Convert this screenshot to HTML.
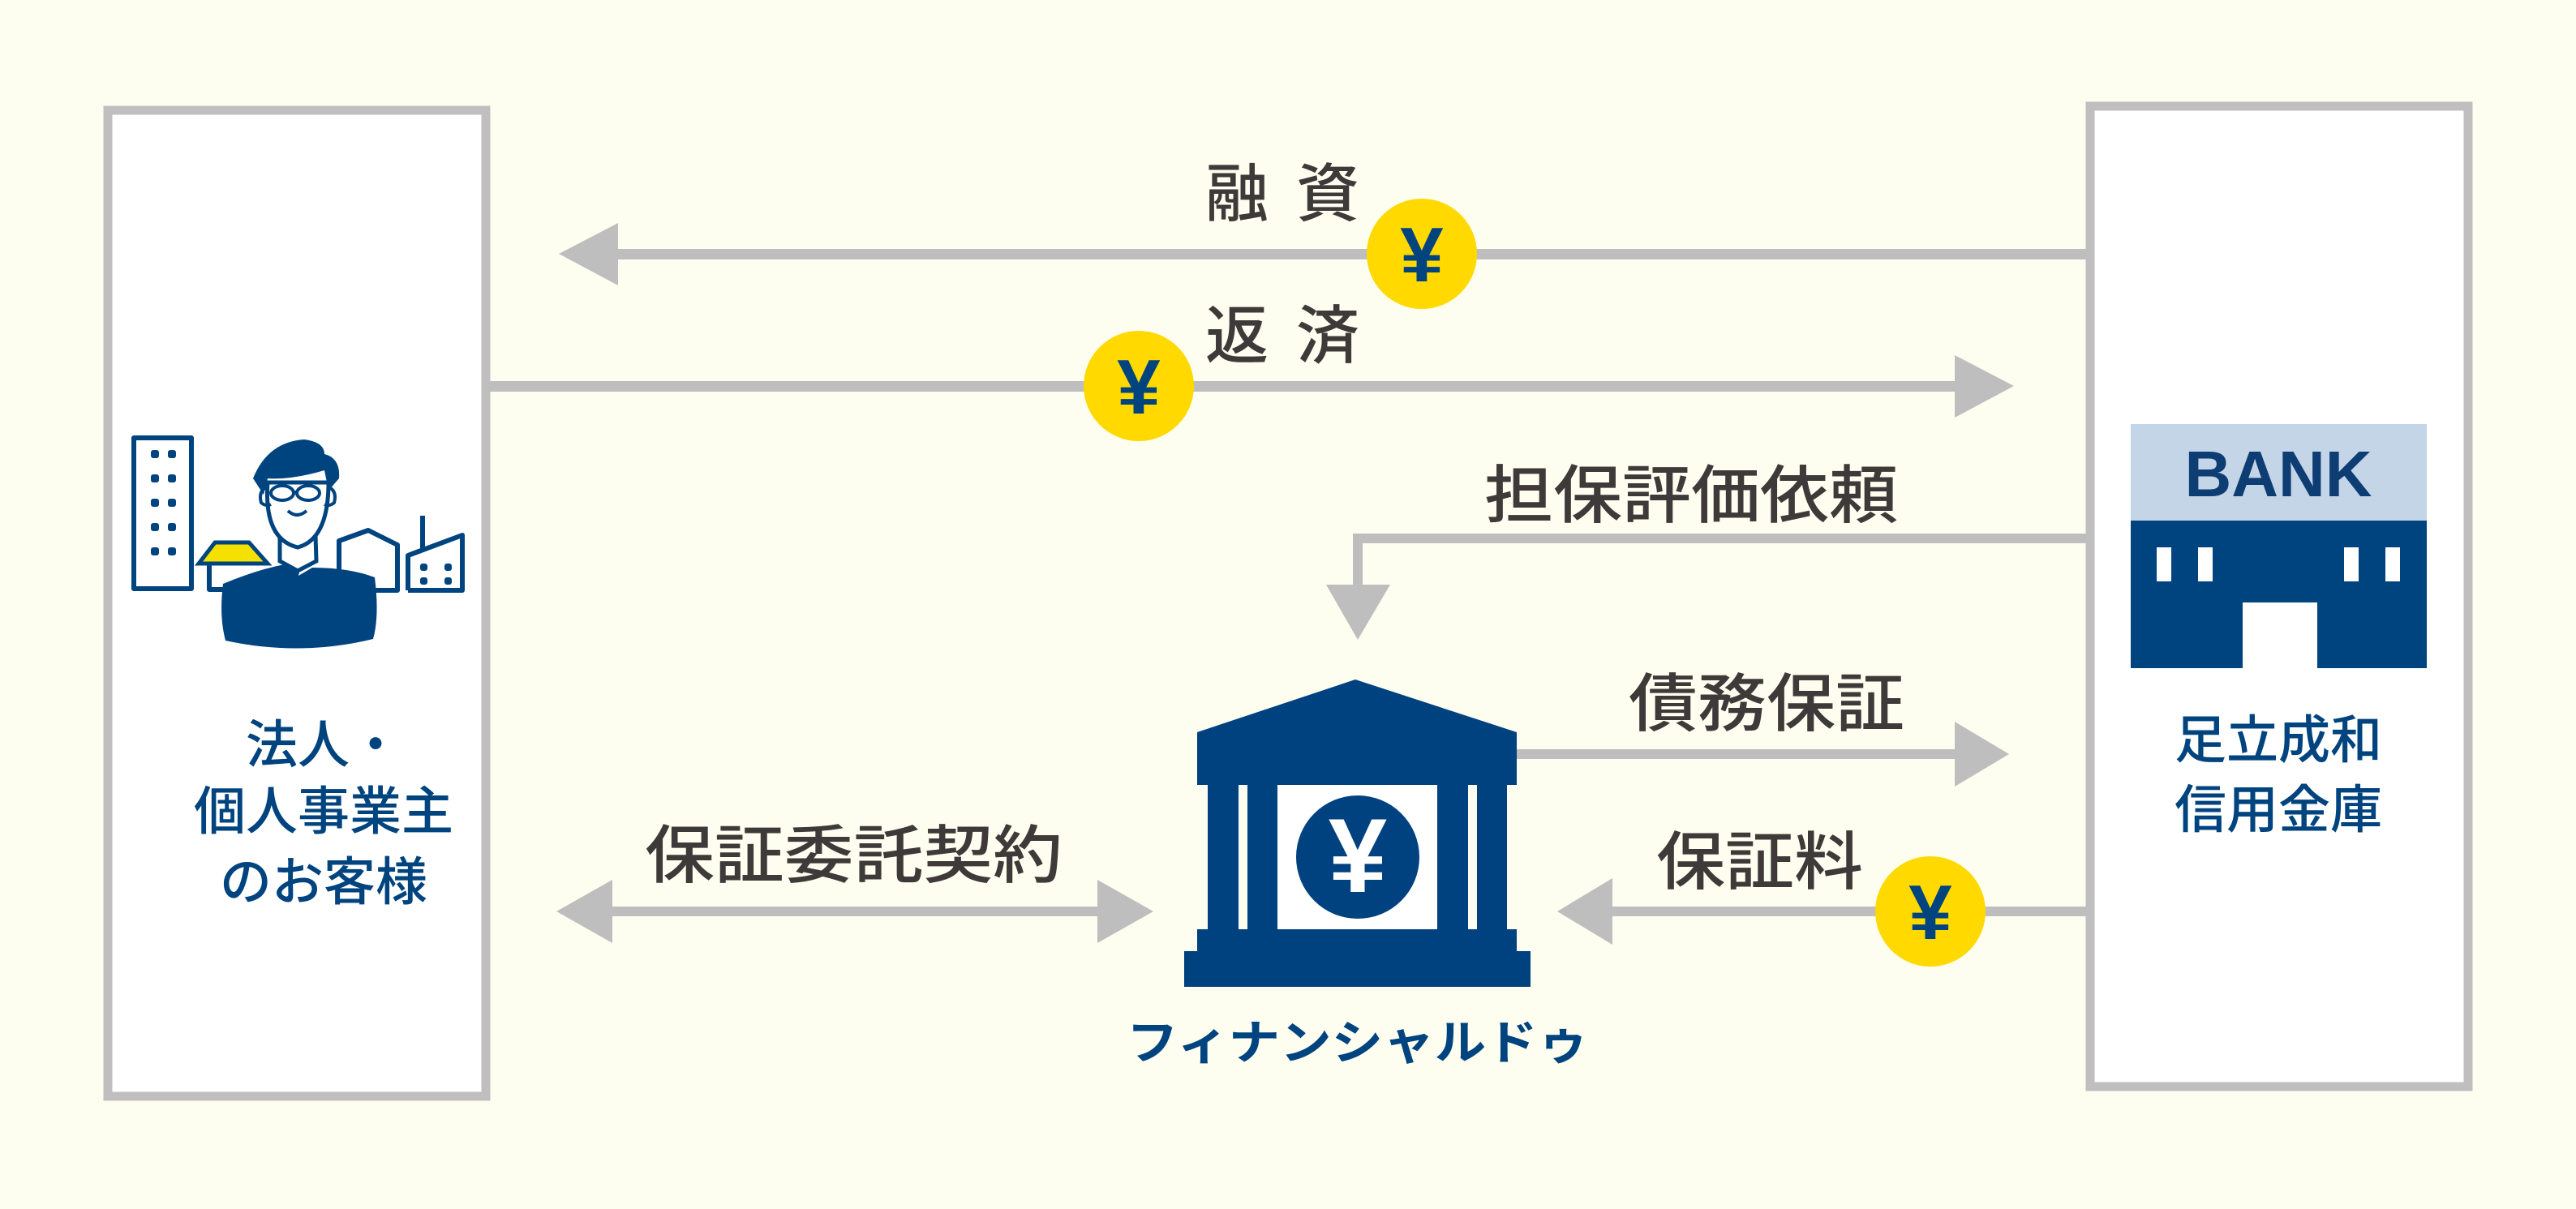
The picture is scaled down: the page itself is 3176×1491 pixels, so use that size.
<!DOCTYPE html>
<html><head><meta charset="utf-8"><style>
html,body{margin:0;padding:0;background:#fefef0;}
svg{display:block}
text{font-family:"Liberation Sans","Noto Sans CJK JP",sans-serif;}
</style></head><body>
<svg width="3176" height="1491" viewBox="0 0 3176 1491" xmlns="http://www.w3.org/2000/svg">
<rect width="3176" height="1491" fill="#fefef0"/>
<rect x="133" y="136" width="466" height="1216" fill="#fff" stroke="#bfbfbf" stroke-width="11"/>
<rect x="2577" y="131" width="466" height="1209" fill="#fff" stroke="#bfbfbf" stroke-width="11"/>

<g fill="#bebebe">
<rect x="755" y="307" width="1817" height="13"/>
<polygon points="689,313 762,275 762,352"/>
<rect x="602" y="470" width="1815" height="13"/>
<polygon points="2483,476 2410,438 2410,515"/>
<rect x="1668" y="658" width="904" height="12"/>
<rect x="1668" y="658" width="12" height="68"/>
<polygon points="1635,721 1714,721 1674,789"/>
<rect x="1870" y="924" width="545" height="12"/>
<polygon points="2477,930 2410,890 2410,970"/>
<rect x="1985" y="1118" width="587" height="12"/>
<polygon points="1920,1124 1988,1083 1988,1165"/>
<rect x="740" y="1118" width="620" height="12"/>
<polygon points="686,1124 755,1085 755,1163"/>
<polygon points="1422,1124 1353,1085 1353,1163"/>
</g>

<g font-weight="bold" fill="#00447f" font-size="96" text-anchor="middle">
<circle cx="1753" cy="313" r="68" fill="#ffd900"/>
<text x="1753" y="347">¥</text>
<circle cx="1404" cy="476" r="68" fill="#ffd900"/>
<text x="1404" y="510">¥</text>
<circle cx="2380" cy="1124" r="68" fill="#ffd900"/>
<text x="2380" y="1158">¥</text>
</g>

<g fill="#3e3a39" font-size="78" font-weight="500">
<text x="1486" y="266">融</text>
<text x="1598" y="266">資</text>
<text x="1486" y="441">返</text>
<text x="1598" y="441">済</text>
<text x="1830" y="638" textLength="510" lengthAdjust="spacingAndGlyphs">担保評価依頼</text>
<text x="2008" y="895" textLength="340" lengthAdjust="spacingAndGlyphs">債務保証</text>
<text x="2042" y="1090" textLength="255" lengthAdjust="spacingAndGlyphs">保証料</text>
<text x="795" y="1082" textLength="515" lengthAdjust="spacingAndGlyphs">保証委託契約</text>
</g>

<g fill="#00417f">
<polygon points="1671,838 1476,903 1870,903"/>
<rect x="1476" y="903" width="394" height="65"/>
<rect x="1489" y="968" width="38" height="180"/>
<rect x="1538" y="968" width="37" height="180"/>
<rect x="1772" y="968" width="38" height="180"/>
<rect x="1821" y="968" width="37" height="180"/>
<rect x="1476" y="1146" width="394" height="28"/>
<rect x="1460" y="1173" width="427" height="44"/>
</g>
<rect x="1575" y="968" width="197" height="178" fill="#fff"/>
<circle cx="1674" cy="1057" r="76" fill="#00417f"/>
<text x="1674" y="1100" font-size="130" font-weight="bold" fill="#fff" text-anchor="middle">¥</text>
<text x="1674" y="1306" font-size="58" font-weight="bold" fill="#00447f" text-anchor="middle" textLength="570" lengthAdjust="spacingAndGlyphs">フィナンシャルドゥ</text>

<rect x="2627" y="523" width="365" height="119" fill="#c3d5e6"/>
<rect x="2627" y="642" width="365" height="182" fill="#00447f"/>
<text x="2809" y="612" font-size="80" font-weight="bold" fill="#0e3d73" text-anchor="middle">BANK</text>
<g fill="#fff">
<rect x="2659" y="675" width="18" height="42"/>
<rect x="2710" y="675" width="18" height="42"/>
<rect x="2890" y="675" width="18" height="42"/>
<rect x="2941" y="675" width="18" height="42"/>
<rect x="2765" y="743" width="92" height="81"/>
</g>
<g fill="#00447f" font-size="64" font-weight="500" text-anchor="middle">
<text x="2809" y="935">足立成和</text>
<text x="2809" y="1021">信用金庫</text>
<text x="399" y="941">法人・</text>
<text x="399" y="1023">個人事業主</text>
<text x="399" y="1110">のお客様</text>
</g>

<g stroke="#00447f" stroke-width="6" fill="none" stroke-linejoin="round">
<rect x="165" y="540" width="71" height="186" fill="#fff"/>
<polyline points="418,728 418,667 454,654 490,672 490,728 455,728"/>
<polyline points="503,728 503,685 570,660 570,728 503,728"/>
<line x1="521" y1="636" x2="521" y2="680"/>
<polyline points="258,697 258,727 300,727"/>
</g>
<g fill="#00447f">
<rect x="186" y="555" width="10" height="10" rx="3"/><rect x="207" y="555" width="10" height="10" rx="3"/>
<rect x="186" y="585" width="10" height="10" rx="3"/><rect x="207" y="585" width="10" height="10" rx="3"/>
<rect x="186" y="615" width="10" height="10" rx="3"/><rect x="207" y="615" width="10" height="10" rx="3"/>
<rect x="186" y="645" width="10" height="10" rx="3"/><rect x="207" y="645" width="10" height="10" rx="3"/>
<rect x="186" y="675" width="10" height="10" rx="3"/><rect x="207" y="675" width="10" height="10" rx="3"/>
<rect x="518" y="695" width="9" height="9" rx="3"/><rect x="548" y="695" width="9" height="9" rx="3"/>
<rect x="518" y="712" width="9" height="9" rx="3"/><rect x="548" y="712" width="9" height="9" rx="3"/>
</g>
<polygon points="245,695 265,669 307,669 330,695" fill="#f5e100" stroke="#00447f" stroke-width="5"/>
<path d="M275,720 Q330,697 372,693 L368,710 L385,700 Q430,700 462,712 Q468,760 460,788 Q370,810 278,790 Q270,760 275,720 Z" fill="#00447f"/>
<path d="M345,660 L345,692 L367,704 L390,692 L389,660 Z" fill="#fff" stroke="#00447f" stroke-width="5"/>
<path d="M330,595 Q325,665 367,675 Q405,665 405,595 Z" fill="#fff" stroke="#00447f" stroke-width="5"/>
<path d="M312,590 Q330,545 375,542 Q400,545 400,560 Q420,565 418,590 L405,605 L400,580 Q360,592 330,590 L325,610 Z" fill="#00447f"/>
<g fill="none" stroke="#00447f" stroke-width="4">
<ellipse cx="348" cy="608" rx="14" ry="9"/><ellipse cx="380" cy="608" rx="14" ry="9"/>
<line x1="362" y1="607" x2="366" y2="607"/>
<path d="M355,630 Q366,640 378,630"/>
<path d="M330,600 Q318,605 322,620 Q328,625 334,622"/>
<path d="M404,600 Q416,605 412,620 Q406,625 400,622"/>
</g>
</svg>
</body></html>
